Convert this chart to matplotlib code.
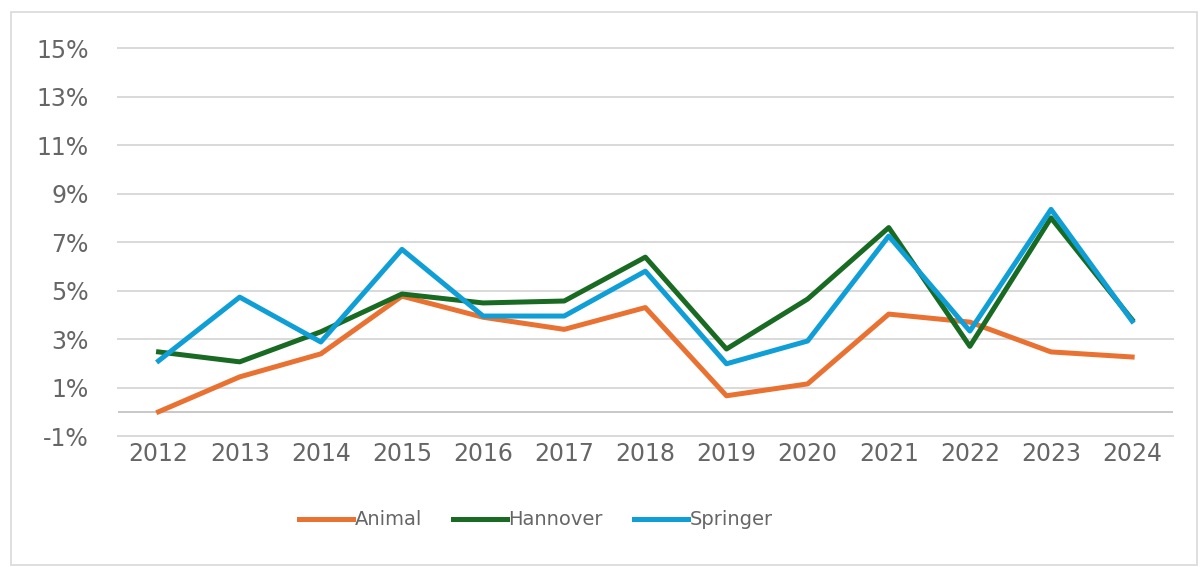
import matplotlib.pyplot as plt
import matplotlib.patches as mpatches
from matplotlib.ticker import FuncFormatter

years = ['2012', '2013', '2014', '2015', '2016', '2017', '2018',
         '2019', '2020', '2021', '2022', '2023', '2024']
animal = [0.0, 1.44, 2.39, 4.77, 3.9, 3.4, 4.3, 0.66, 1.15, 4.03, 3.7, 2.47, 2.26]
hannover = [2.47, 2.06, 3.3, 4.86, 4.49, 4.57, 6.38, 2.59, 4.65, 7.6, 2.7, 8.0, 3.8]
springer = [2.1, 4.73, 2.88, 6.7, 3.95, 3.95, 5.8, 1.98, 2.92, 7.25, 3.33, 8.35, 3.74]
yticks = [-1, 1, 3, 5, 7, 9, 11, 13, 15]

plt.rcParams['font.family'] = ['DejaVu Sans']

fig = plt.figure(figsize=(12.04, 5.67), dpi=100)
ax = fig.add_axes([0.098, 0.231, 0.876, 0.684])

x = list(range(len(years)))
ax.plot(x, animal, color='#E97132', lw=3.6, label='Animal')
ax.plot(x, hannover, color='#196B24', lw=3.6, label='Hannover')
ax.plot(x, springer, color='#0F9ED5', lw=3.6, label='Springer')

ax.set_xlim(-0.5, len(years) - 0.5)
ax.set_ylim(-1, 15)
ax.set_yticks(yticks)
ax.yaxis.set_major_formatter(FuncFormatter(lambda v, p: '%d%%' % v))
ax.set_xticks(x)
ax.set_xticklabels(years)
ax.grid(axis='y', color='#D9D9D9', lw=1.4)
for gl in ax.get_ygridlines():
    gl.set_clip_on(False)
ax.set_axisbelow(True)
ax.axhline(0, color='#C8C8C8', lw=1.4, zorder=0.5)
for s in ax.spines.values():
    s.set_visible(False)
ax.tick_params(length=0, labelsize=17, labelcolor='#666666')
ax.tick_params(axis='y', pad=21)
ax.tick_params(axis='x', pad=4)

leg = fig.legend(loc='center', bbox_to_anchor=(0.445, 0.083), ncol=3, frameon=False,
                 fontsize=14, handlelength=2.8, handletextpad=0.05, columnspacing=1.6)
for t in leg.get_texts():
    t.set_color('#666666')

# chart border
fig.patches.append(mpatches.Rectangle((0.009, 0.004), 0.985, 0.974, transform=fig.transFigure,
                                      fill=False, edgecolor='#D9D9D9', lw=1.2))

fig.savefig('out.png', dpi=100, facecolor='white')
